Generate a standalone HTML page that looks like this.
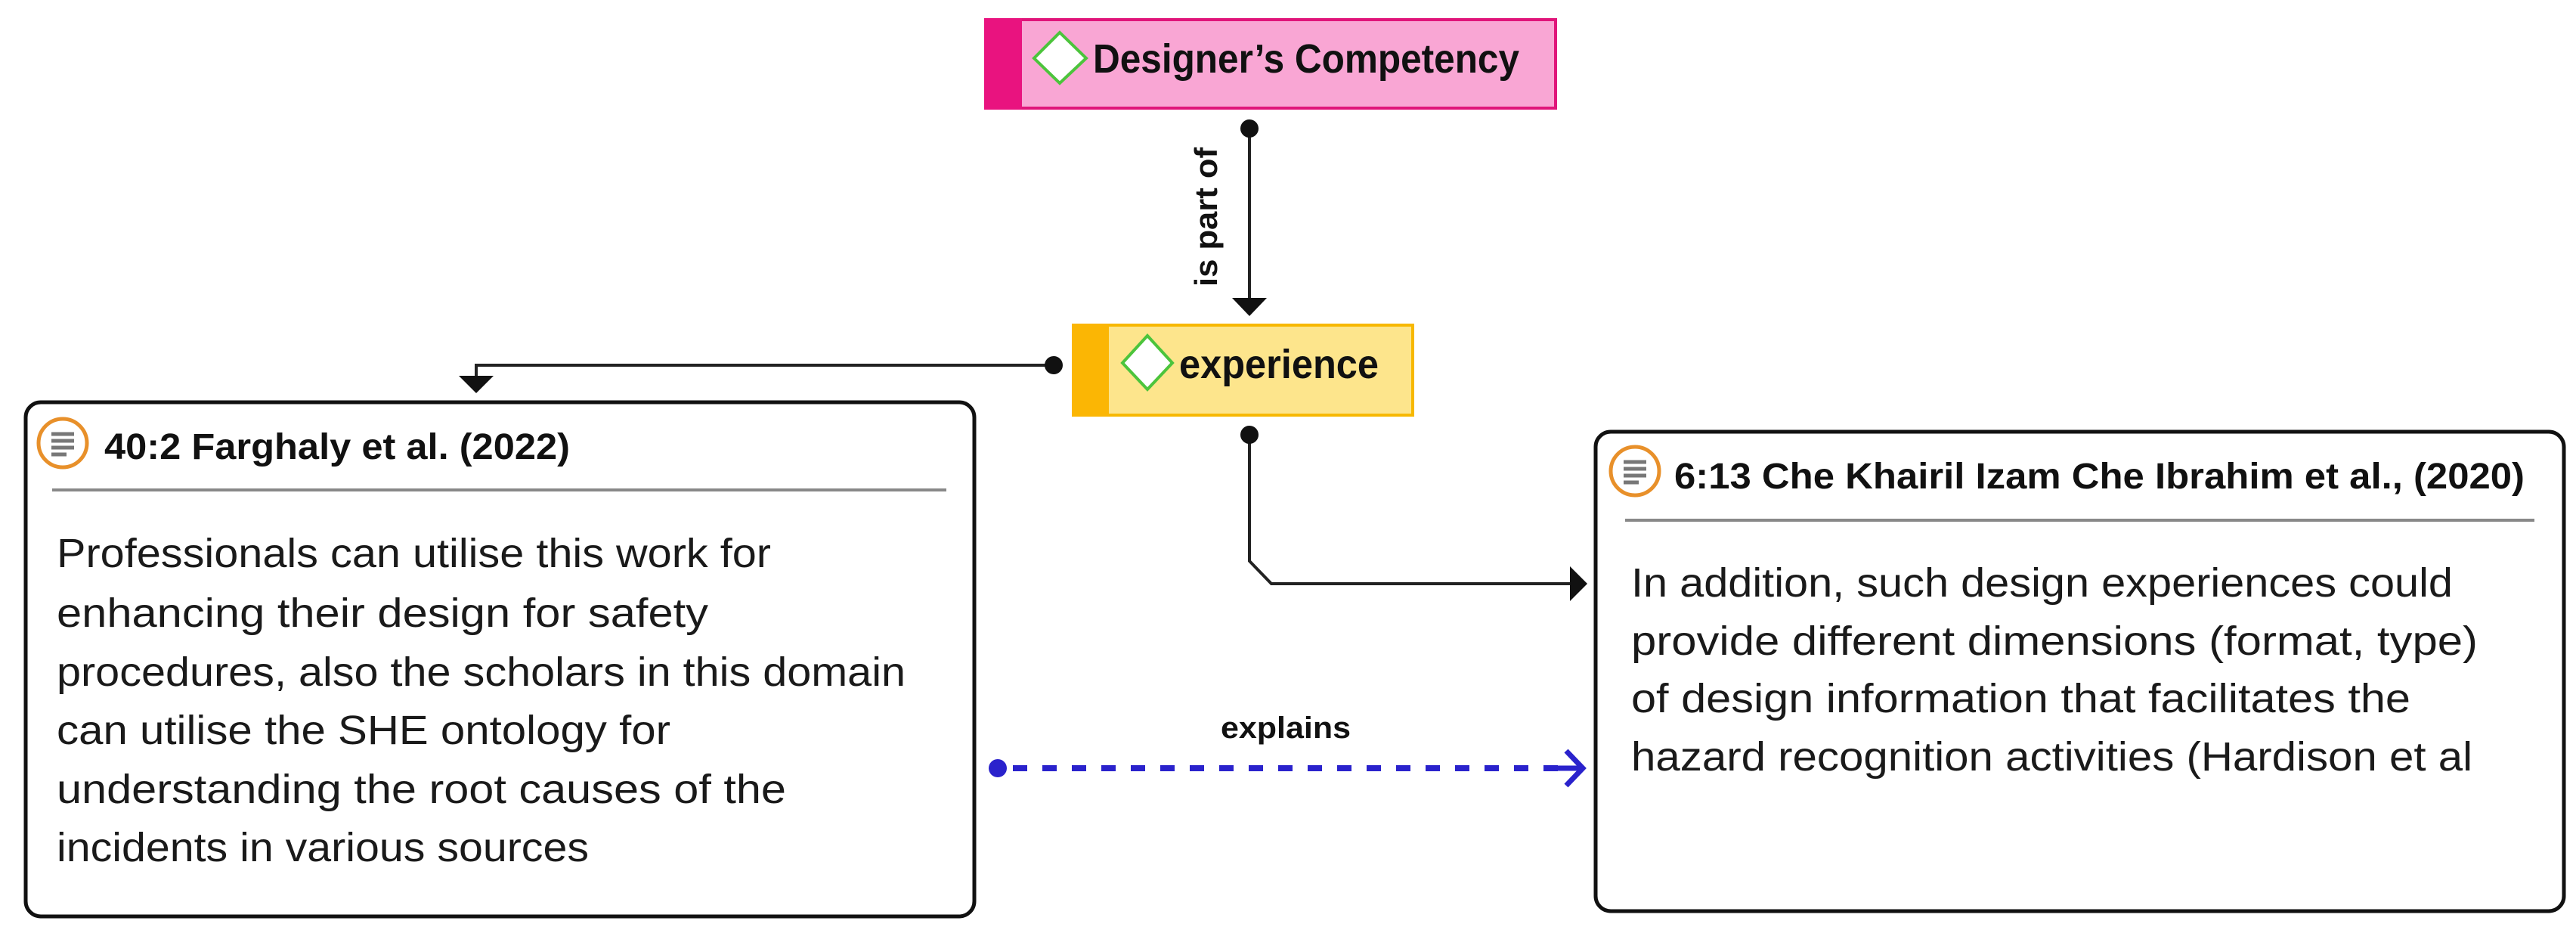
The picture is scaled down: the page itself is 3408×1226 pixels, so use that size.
<!DOCTYPE html>
<html><head><meta charset="utf-8"><style>
html,body{margin:0;padding:0;background:#fff;}
svg{display:block;}
text{font-family:"Liberation Sans",sans-serif;}
</style></head><body>
<svg width="3408" height="1226" viewBox="0 0 3408 1226" xmlns="http://www.w3.org/2000/svg">
<!-- Designer's Competency -->
<rect x="1304" y="26" width="754" height="117" fill="#f9a6d4" stroke="#e0157a" stroke-width="4"/>
<rect x="1302" y="24" width="50" height="121" fill="#e9137f"/>
<polygon points="1402,43 1437,77 1402,110 1368,77" fill="#fff" stroke="#4cc43c" stroke-width="4"/>
<text x="1446" y="96" font-size="54" font-weight="bold" fill="#111" textLength="564" lengthAdjust="spacingAndGlyphs">Designer’s Competency</text>

<!-- is part of connector -->
<line x1="1653" y1="170" x2="1653" y2="400" stroke="#222" stroke-width="4"/>
<circle cx="1653" cy="170" r="12" fill="#111"/>
<polygon points="1630,394 1676,394 1653,418" fill="#111"/>
<text transform="translate(1610,379) rotate(-90)" font-size="42" font-weight="bold" fill="#111" textLength="184" lengthAdjust="spacingAndGlyphs">is part of</text>

<!-- experience -->
<rect x="1420" y="430" width="449" height="119" fill="#fde58c" stroke="#f7b800" stroke-width="4"/>
<rect x="1418" y="428" width="49" height="123" fill="#fbb604"/>
<polygon points="1518,444 1551,480 1518,515 1485,480" fill="#fff" stroke="#4cc43c" stroke-width="4"/>
<text x="1560" y="500" font-size="54" font-weight="bold" fill="#111" textLength="264" lengthAdjust="spacingAndGlyphs">experience</text>

<!-- left connector -->
<polyline points="1394,483 630,483 630,505" fill="none" stroke="#222" stroke-width="4"/>
<circle cx="1394" cy="483" r="12" fill="#111"/>
<polygon points="607,497 653,497 630,520" fill="#111"/>

<!-- right connector -->
<polyline points="1653,575 1653,742 1682,772 2085,772" fill="none" stroke="#222" stroke-width="4"/>
<circle cx="1653" cy="575" r="12" fill="#111"/>
<polygon points="2077,749 2100,772 2077,795" fill="#111"/>

<!-- left box -->
<rect x="34" y="532" width="1255" height="680" rx="20" ry="20" fill="#fff" stroke="#111" stroke-width="5"/>
<circle cx="83" cy="586" r="32" fill="#fff" stroke="#e8902a" stroke-width="5"/>
<g stroke="#777" stroke-width="5"><line x1="68" y1="574" x2="98" y2="574"/><line x1="68" y1="583" x2="98" y2="583"/><line x1="68" y1="592" x2="98" y2="592"/><line x1="68" y1="601" x2="88" y2="601"/></g>
<text x="138" y="607" font-size="48" font-weight="bold" fill="#111" textLength="616" lengthAdjust="spacingAndGlyphs">40:2 Farghaly et al. (2022)</text>
<line x1="69" y1="648" x2="1252" y2="648" stroke="#888" stroke-width="4"/>
<g font-size="54" fill="#1a1a1a">
<text x="75" y="750" textLength="945" lengthAdjust="spacingAndGlyphs">Professionals can utilise this work for</text>
<text x="75" y="829" textLength="862" lengthAdjust="spacingAndGlyphs">enhancing their design  for safety</text>
<text x="75" y="907" textLength="1123" lengthAdjust="spacingAndGlyphs">procedures, also the scholars in this domain</text>
<text x="75" y="984" textLength="812" lengthAdjust="spacingAndGlyphs">can utilise the SHE ontology for</text>
<text x="75" y="1062" textLength="965" lengthAdjust="spacingAndGlyphs">understanding the root  causes of the</text>
<text x="75" y="1139" textLength="704" lengthAdjust="spacingAndGlyphs">incidents in various sources</text>
</g>

<!-- right box -->
<rect x="2111" y="571" width="1281" height="634" rx="20" ry="20" fill="#fff" stroke="#111" stroke-width="5"/>
<circle cx="2163" cy="623" r="32" fill="#fff" stroke="#e8902a" stroke-width="5"/>
<g stroke="#777" stroke-width="5"><line x1="2148" y1="611" x2="2178" y2="611"/><line x1="2148" y1="620" x2="2178" y2="620"/><line x1="2148" y1="629" x2="2178" y2="629"/><line x1="2148" y1="638" x2="2168" y2="638"/></g>
<text x="2215" y="646" font-size="48" font-weight="bold" fill="#111" textLength="1125" lengthAdjust="spacingAndGlyphs">6:13 Che Khairil Izam Che Ibrahim et al., (2020)</text>
<line x1="2150" y1="688" x2="3353" y2="688" stroke="#888" stroke-width="4"/>
<g font-size="54" fill="#1a1a1a">
<text x="2158" y="789" textLength="1087" lengthAdjust="spacingAndGlyphs">In addition, such design experiences could</text>
<text x="2158" y="866" textLength="1120" lengthAdjust="spacingAndGlyphs">provide different dimensions (format,  type)</text>
<text x="2158" y="942" textLength="1031" lengthAdjust="spacingAndGlyphs">of design information that facilitates the</text>
<text x="2158" y="1019" textLength="1113" lengthAdjust="spacingAndGlyphs">hazard recognition activities (Hardison et al</text>
</g>

<!-- explains -->
<line x1="1340" y1="1016" x2="2080" y2="1016" stroke="#2a22cc" stroke-width="8" stroke-dasharray="19,20"/>
<circle cx="1320" cy="1016" r="12" fill="#2a22cc"/>
<polyline points="2072,993 2094,1016 2072,1039" fill="none" stroke="#2a22cc" stroke-width="7"/>
<line x1="2060" y1="1016" x2="2090" y2="1016" stroke="#2a22cc" stroke-width="7"/>
<text x="1615" y="976" font-size="40" font-weight="bold" fill="#111" textLength="172" lengthAdjust="spacingAndGlyphs">explains</text>
</svg>
</body></html>
